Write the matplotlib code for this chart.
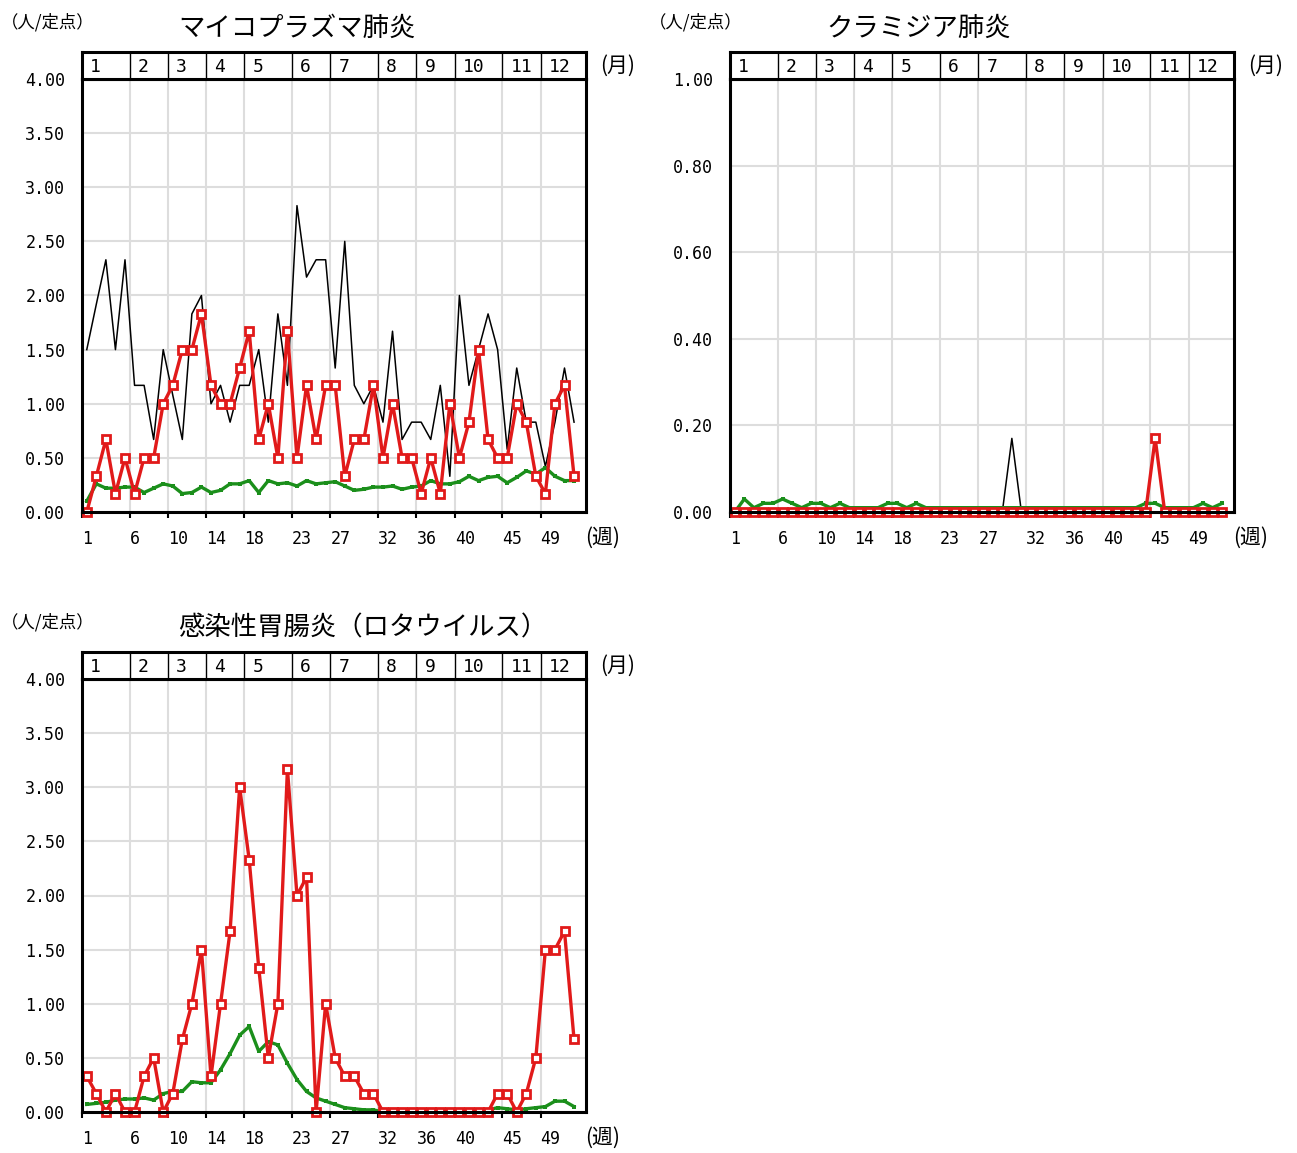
"""
定点把握感染症 週別グラフ (3パネル)
"""
import numpy as np
import matplotlib.pyplot as plt

plt.rcParams['font.family'] = ['Noto Sans CJK JP', 'DejaVu Sans']

W, H = 1297, 1153

# 週 / 月
weeks = np.arange(1, 53)
month_start_weeks = [1, 6, 10, 14, 18, 23, 27, 32, 36, 40, 45, 49]
month_labels = ['1', '2', '3', '4', '5', '6', '7', '8', '9', '10', '11', '12']

# マイコプラズマ肺炎
myco_this = [0.00, 0.33, 0.67, 0.17, 0.50, 0.17, 0.50, 0.50, 1.00, 1.17,
             1.50, 1.50, 1.83, 1.17, 1.00, 1.00, 1.33, 1.67, 0.67, 1.00,
             0.50, 1.67, 0.50, 1.17, 0.67, 1.17, 1.17, 0.33, 0.67, 0.67,
             1.17, 0.50, 1.00, 0.50, 0.50, 0.17, 0.50, 0.17, 1.00, 0.50,
             0.83, 1.50, 0.67, 0.50, 0.50, 1.00, 0.83, 0.33, 0.17, 1.00,
             1.17, 0.33]
myco_last = [1.50, 1.92, 2.33, 1.50, 2.33, 1.17, 1.17, 0.67, 1.50, 1.08,
             0.67, 1.83, 2.00, 1.00, 1.17, 0.83, 1.17, 1.17, 1.50, 0.83,
             1.83, 1.17, 2.83, 2.17, 2.33, 2.33, 1.33, 2.50, 1.17, 1.00,
             1.17, 0.83, 1.67, 0.67, 0.83, 0.83, 0.67, 1.17, 0.33, 2.00,
             1.17, 1.50, 1.83, 1.50, 0.58, 1.33, 0.83, 0.83, 0.42, 0.83,
             1.33, 0.83]
myco_avg = [0.10, 0.26, 0.22, 0.22, 0.23, 0.23, 0.18, 0.22, 0.26, 0.24,
            0.17, 0.18, 0.23, 0.18, 0.20, 0.26, 0.26, 0.29, 0.18, 0.29,
            0.26, 0.27, 0.24, 0.29, 0.26, 0.27, 0.28, 0.24, 0.20, 0.21,
            0.23, 0.23, 0.24, 0.21, 0.23, 0.24, 0.29, 0.26, 0.26, 0.28,
            0.33, 0.29, 0.32, 0.33, 0.27, 0.32, 0.38, 0.35, 0.41, 0.33,
            0.29, 0.29]

# クラミジア肺炎
chla_this = [0.00, 0.00, 0.00, 0.00, 0.00, 0.00, 0.00, 0.00, 0.00, 0.00,
             0.00, 0.00, 0.00, 0.00, 0.00, 0.00, 0.00, 0.00, 0.00, 0.00,
             0.00, 0.00, 0.00, 0.00, 0.00, 0.00, 0.00, 0.00, 0.00, 0.00,
             0.00, 0.00, 0.00, 0.00, 0.00, 0.00, 0.00, 0.00, 0.00, 0.00,
             0.00, 0.00, 0.00, 0.00, 0.17, 0.00, 0.00, 0.00, 0.00, 0.00,
             0.00, 0.00]
chla_last = [0.00, 0.00, 0.00, 0.00, 0.00, 0.00, 0.00, 0.00, 0.00, 0.00,
             0.00, 0.00, 0.00, 0.00, 0.00, 0.00, 0.00, 0.00, 0.00, 0.00,
             0.00, 0.00, 0.00, 0.00, 0.00, 0.00, 0.00, 0.00, 0.00, 0.17,
             0.00, 0.00, 0.00, 0.00, 0.00, 0.00, 0.00, 0.00, 0.00, 0.00,
             0.00, 0.00, 0.00, 0.00, 0.00, 0.00, 0.00, 0.00, 0.00, 0.00,
             0.00, 0.00]
chla_avg = [0.00, 0.03, 0.01, 0.02, 0.02, 0.03, 0.02, 0.01, 0.02, 0.02,
            0.01, 0.02, 0.01, 0.01, 0.01, 0.01, 0.02, 0.02, 0.01, 0.02,
            0.01, 0.01, 0.01, 0.01, 0.01, 0.01, 0.01, 0.01, 0.01, 0.01,
            0.01, 0.01, 0.01, 0.01, 0.01, 0.01, 0.01, 0.01, 0.01, 0.01,
            0.01, 0.01, 0.01, 0.02, 0.02, 0.01, 0.01, 0.01, 0.01, 0.02,
            0.01, 0.02]

# 感染性胃腸炎（ロタウイルス）
rota_this = [0.33, 0.17, 0.00, 0.17, 0.00, 0.00, 0.33, 0.50, 0.00, 0.17,
             0.67, 1.00, 1.50, 0.33, 1.00, 1.67, 3.00, 2.33, 1.33, 0.50,
             1.00, 3.17, 2.00, 2.17, 0.00, 1.00, 0.50, 0.33, 0.33, 0.17,
             0.17, 0.00, 0.00, 0.00, 0.00, 0.00, 0.00, 0.00, 0.00, 0.00,
             0.00, 0.00, 0.00, 0.17, 0.17, 0.00, 0.17, 0.50, 1.50, 1.50,
             1.67, 0.67]
rota_avg = [0.07, 0.08, 0.09, 0.11, 0.12, 0.12, 0.13, 0.11, 0.17, 0.19,
            0.19, 0.28, 0.27, 0.27, 0.39, 0.54, 0.71, 0.79, 0.56, 0.65,
            0.62, 0.45, 0.30, 0.19, 0.13, 0.10, 0.07, 0.04, 0.03, 0.02,
            0.02, 0.00, 0.01, 0.01, 0.01, 0.01, 0.01, 0.01, 0.01, 0.01,
            0.01, 0.01, 0.02, 0.04, 0.03, 0.02, 0.03, 0.04, 0.05, 0.10,
            0.10, 0.05]

RED = '#e11a1a'
GREEN = '#1b8f1b'
GRID = '#dddddd'
NUM_FONT = 'DejaVu Sans Mono'


def px_rect(left, top, right, bottom):
    return [left / W, 1 - bottom / H, (right - left) / W, (bottom - top) / H]


def fig_text(fig, x, y, s, **kw):
    fig.text(x / W, 1 - y / H, s, **kw)


def draw_panel(fig, left, top, title, ymax, ystep, this_year, avg, last_year=None):
    right = left + 504
    band_bot = top + 27
    bottom = band_bot + 433
    x = weeks - 0.5
    xmax = 52.75
    bounds = [w - 1 for w in month_start_weeks]

    ax = fig.add_axes(px_rect(left, band_bot, right, bottom))
    band = fig.add_axes(px_rect(left, top, right, band_bot))

    # 本体
    if last_year is not None:
        ax.plot(x, last_year, color='black', linewidth=1.1, zorder=3)
    ax.plot(x, avg, '-s', color=GREEN, linewidth=2.4, markersize=3.2,
            markeredgewidth=0, zorder=4)
    ax.plot(x, this_year, '-s', color=RED, linewidth=2.4, markersize=5.5,
            markerfacecolor='white', markeredgecolor=RED, markeredgewidth=2.0,
            zorder=5, clip_on=False)

    ax.set_xlim(0, xmax)
    ax.set_ylim(0, ymax)
    yticks = np.arange(0, ymax + ystep / 2, ystep)
    ax.set_yticks(yticks)
    ax.set_yticklabels([f'{v:.2f}' for v in yticks], family=NUM_FONT, fontsize=12)
    ax.set_xticks(bounds)
    ax.set_xticklabels([str(w) for w in month_start_weeks], family=NUM_FONT,
                       fontsize=12, ha='left')
    ax.tick_params(axis='x', direction='out', length=4, width=1.5, pad=9)
    ax.tick_params(axis='y', length=0, pad=12)
    ax.grid(True, color=GRID, linewidth=1.5, zorder=0)
    ax.set_axisbelow(True)
    for sp in ax.spines.values():
        sp.set_linewidth(2.2)
        sp.set_zorder(6)

    # 月帯
    band.set_xlim(0, xmax)
    band.set_ylim(0, 1)
    band.set_xticks([])
    band.set_yticks([])
    for b in bounds[1:]:
        band.axvline(b, color='black', linewidth=1.0)
    for b, lab in zip(bounds, month_labels):
        band.text(b + 0.85, 0.45, lab, ha='left', va='center',
                  family=NUM_FONT, fontsize=13)
    for sp in band.spines.values():
        sp.set_linewidth(2.2)

    # ラベル
    fig_text(fig, left - 81, top - 30, '（人/定点）', fontsize=12.5,
             ha='left', va='center')
    fig_text(fig, left + 96, top - 24, title, fontsize=19, ha='left', va='center')
    fig_text(fig, right + 14, top + 14, '(月)', fontsize=15, ha='left', va='center')
    fig_text(fig, right - 1, bottom + 26, '(週)', fontsize=15, ha='left', va='center')


fig = plt.figure(figsize=(W / 100, H / 100), dpi=100)

draw_panel(fig, 82, 52, 'マイコプラズマ肺炎', 4.0, 0.5, myco_this, myco_avg, myco_last)
draw_panel(fig, 730, 52, 'クラミジア肺炎', 1.0, 0.2, chla_this, chla_avg, chla_last)
draw_panel(fig, 82, 652, '感染性胃腸炎（ロタウイルス）', 4.0, 0.5, rota_this, rota_avg)

fig.savefig('out.png', dpi=100, facecolor='white')
plt.close(fig)
